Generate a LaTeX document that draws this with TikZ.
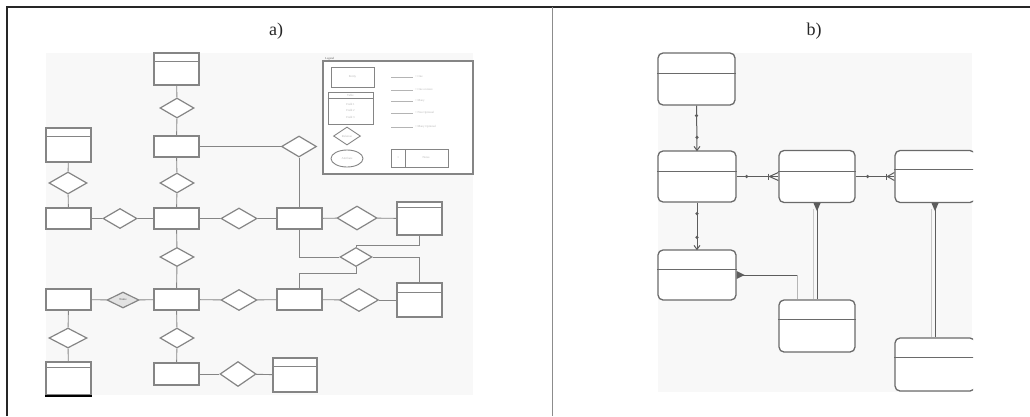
\documentclass[tikz,border=0pt]{standalone}
\usepackage{fontspec}
\setmainfont{Liberation Serif}
\usetikzlibrary{shapes.geometric,arrows.meta,calc}
\definecolor{ln}{HTML}{858585}
\definecolor{bg}{HTML}{F8F8F8}
\definecolor{lg}{HTML}{B4B4B4}
\begin{document}
\begin{tikzpicture}[x=1pt,y=-1pt,
  ent/.style={draw=ln, line width=1.4pt, fill=white, minimum width=45pt, minimum height=21pt, inner sep=0pt},
  tbl/.style={ent, minimum height=33pt},
  rel/.style={diamond, draw=ln, line width=1.2pt, fill=white, inner sep=0pt, minimum width=34pt, minimum height=20pt},
  conn/.style={draw=ln, line width=0.9pt},
  hdr/.style={draw=ln, line width=0.8pt},
  rt/.style={draw=ln!80!black, line width=1.3pt, rounded corners=5pt, fill=white, inner sep=0pt, minimum width=77pt, minimum height=52pt},
  bconn/.style={draw=ln!70!black, line width=1pt},
  tiny/.style={font=\fontsize{3}{3.5}\selectfont, text=lg, inner sep=0pt},
  lbl/.style={font=\fontsize{18}{20}\selectfont, text=black!85, inner sep=0pt}]
\useasboundingbox (0,0) rectangle (1030,416);
% frame
\draw[line width=1.3pt, black!85] (7,416) -- (7,7) -- (1030,7);
\draw[line width=0.8pt, black!45] (552,7) -- (552,416);
\node[lbl] (la) at (276,31) {a)};
\node[lbl] (lb) at (814,31) {b)};
% ---------------- panel a
\fill[bg] (46,53) rectangle (473,395);
% legend
\node[draw=ln, line width=1.4pt, fill=white, minimum width=150pt, minimum height=113pt, inner sep=0pt] (leg) at (398,117.5) {};
\node[tiny, anchor=south west, text=ln!70!black] (legt) at (325,60) {Legend};
\node[ent, line width=1pt, minimum width=43pt, minimum height=20pt] (lent) at (352.5,77) {};
\node[tiny] at (lent) {Entity};
\node[ent, line width=1pt, minimum width=45pt, minimum height=32pt] (ltbl) at (350.5,108) {};
\draw[hdr, line width=0.5pt] ($(ltbl.north west)+(0,7)$) -- ($(ltbl.north east)+(0,7)$);
\node[tiny] at (350.5,95.5) {Table};
\node[tiny] at (350.5,104) {Field 1};
\node[tiny] at (350.5,110.5) {Field 2};
\node[tiny] at (350.5,117) {Field 3};
\node[rel, line width=0.9pt, minimum width=27pt, minimum height=18pt] (lrel) at (347,136) {};
\node[tiny] at (lrel) {Relation};
\node[ellipse, draw=ln, line width=0.9pt, fill=white, minimum width=32pt, minimum height=17pt, inner sep=0pt] (latt) at (347,158.5) {};
\node[tiny] at (latt) {Attribute};
\node[draw=ln, line width=0.8pt, fill=white, minimum width=57pt, minimum height=18pt, inner sep=0pt] (lkey) at (419.5,158) {};
\draw[hdr, line width=0.5pt] (405,149) -- (405,167);
\node[tiny] at (398,158) {1};
\node[tiny] at (426,158) {Notes};
\foreach \yy/\tt in {77/= One, 90/= One or more, 101/= Many, 113/= Non Optional, 127/= Many Optional}{
  \draw[draw=lg, line width=0.6pt] (391,\yy) -- (413,\yy);
  \node[tiny, anchor=west] at (415,\yy) {\tt};
}
% entities and relations
\node[tbl, minimum height=32pt] (tA) at (176.5,69) {};
\draw[hdr] ($(tA.north west)+(0,9)$) -- ($(tA.north east)+(0,9)$);
\node[rel] (dA) at (177,108) {};
\node[ent] (eA) at (176.5,146.5) {};
\node[rel, minimum width=35pt, minimum height=21pt] (dAR) at (299,146.5) {};
\node[tbl, minimum height=34pt] (tL) at (68.5,145) {};
\draw[hdr] ($(tL.north west)+(0,9)$) -- ($(tL.north east)+(0,9)$);
\node[rel, minimum width=38pt, minimum height=22pt] (dL) at (68,183) {};
\node[rel] (dA2) at (177,183) {};
% row B
\node[ent] (eB1) at (68.5,218.5) {};
\node[rel] (dB1) at (120,218.5) {};
\node[ent] (eB2) at (176.5,218.5) {};
\node[rel, minimum width=36pt, minimum height=21pt] (dB2) at (239,218.5) {};
\node[ent] (eB3) at (299.5,218.5) {};
\node[rel, minimum width=40pt, minimum height=24pt] (dB3) at (357,218) {};
\node[tbl] (tB4) at (419.5,218.5) {};
\draw[hdr] ($(tB4.north west)+(0,6)$) -- ($(tB4.north east)+(0,6)$);
\node[rel, minimum height=19pt] (dB2C) at (177,257) {};
\node[rel, minimum width=32pt, minimum height=19pt] (dM) at (356,257) {};
% row C
\node[ent] (eC1) at (68.5,299.5) {};
\node[rel, minimum width=32pt, minimum height=16pt, fill=gray!22] (dC1) at (123,300) {};
\node[tiny, text=ln!60!black] at (dC1) {Name};
\node[ent] (eC2) at (176.5,299.5) {};
\node[rel, minimum width=36pt, minimum height=21pt] (dC2) at (239,300) {};
\node[ent] (eC3) at (299.5,299.5) {};
\node[rel, minimum width=39pt, minimum height=23pt] (dC3) at (359,300) {};
\node[tbl, minimum height=34pt] (tC4) at (419.5,300) {};
\draw[hdr] ($(tC4.north west)+(0,10)$) -- ($(tC4.north east)+(0,10)$);
% bottom
\node[rel, minimum width=38pt] (dD1) at (68,338) {};
\node[tbl] (tD1) at (68.5,378.5) {};
\draw[hdr] ($(tD1.north west)+(0,6)$) -- ($(tD1.north east)+(0,6)$);
\draw[line width=1.8pt, black] (tD1.south west) -- (tD1.south east);
\node[rel] (dD2) at (177,338) {};
\node[ent, minimum height=22pt] (eD2) at (176.5,374) {};
\node[rel, minimum width=36pt, minimum height=25pt] (dD3) at (238,374) {};
\node[tbl, minimum width=44pt, minimum height=34pt] (tD3) at (295,375) {};
\draw[hdr] ($(tD3.north west)+(0,9)$) -- ($(tD3.north east)+(0,9)$);
% connectors panel a
\draw[conn] (tA) -- (dA);
\draw[conn] (dA) -- (eA);
\draw[conn] (eA) -- (dAR);
\draw[conn] (dAR.south) -- (dAR.south |- eB3.north);
\draw[conn] (tL) -- (dL);
\draw[conn] (dL) -- (eB1);
\draw[conn] (eA) -- (dA2);
\draw[conn] (dA2) -- (eB2);
\draw[conn] (eB1) -- (dB1);
\draw[conn] (dB1) -- (eB2);
\draw[conn] (eB2) -- (dB2);
\draw[conn] (dB2) -- (eB3);
\draw[conn] (eB3) -- (dB3);
\draw[conn] (dB3) -- (tB4);
\draw[conn] (eB2) -- (dB2C);
\draw[conn] (dB2C) -- (eC2);
\draw[conn] (eB3.south) |- (dM.west);
\coordinate (mtop) at ($(dM.north)+(0,-1)$);
\draw[conn] (dM.north) -- (mtop) -| (tB4.south);
\draw[conn] (dM.east) -| (tC4.north);
\coordinate (mbot) at ($(dM.south)+(0,6)$);
\draw[conn] (dM.south) -- (mbot) -| (eC3.north);
\draw[conn] (eC1) -- (dC1);
\draw[conn] (dC1) -- (eC2);
\draw[conn] (eC2) -- (dC2);
\draw[conn] (dC2) -- (eC3);
\draw[conn] (eC3) -- (dC3);
\draw[conn] (dC3) -- (tC4);
\draw[conn] (eC1) -- (dD1);
\draw[conn] (dD1) -- (tD1);
\draw[conn] (eC2) -- (dD2);
\draw[conn] (dD2) -- (eD2);
\draw[conn] (eD2) -- (dD3);
\draw[conn] (dD3) -- (tD3);
% ---------------- panel b
\fill[bg] (658,53) rectangle (972,392);
\begin{scope}
\clip (650,45) rectangle (973,400);
\node[rt] (T1) at (696.5,79) {};
\node[rt, minimum width=78pt, minimum height=51pt] (T2) at (697,176.5) {};
\node[rt, minimum width=76pt] (T3) at (817,176.5) {};
\node[rt, minimum width=80pt] (T4) at (935,176.5) {};
\node[rt, minimum width=78pt, minimum height=50pt] (T5) at (697,275) {};
\node[rt, minimum width=76pt] (T6) at (817,326) {};
\node[rt, minimum width=80pt, minimum height=53pt] (T7) at (935,364.5) {};
\foreach \n/\d in {T1/21,T2/21,T3/22,T4/20,T5/20,T6/20,T7/20}{
  \draw[draw=ln!80!black, line width=1.1pt] ($(\n.north west)+(0,\d)$) -- ($(\n.north east)+(0,\d)$);
}
\end{scope}
% connectors panel b
\draw[bconn] (T1) -- (T2);
\fill[ln!70!black] ($(T1.south)+(0,10)$) circle (1.8pt);
\fill[ln!70!black] ($(T2.north)+(0,-13)$) circle (1.8pt);
\draw[bconn] ($(T2.north)+(-3,-4)$) -- (T2.north) -- ($(T2.north)+(3,-4)$);
\draw[bconn] (T2) -- (T5);
\fill[ln!70!black] ($(T2.south)+(0,11)$) circle (1.8pt);
\fill[ln!70!black] ($(T5.north)+(0,-12)$) circle (1.8pt);
\draw[bconn] ($(T5.north)+(-3,-4)$) -- (T5.north) -- ($(T5.north)+(3,-4)$);
\draw[bconn] (T2.east) -- (T3.west);
\fill[ln!70!black] ($(T2.east)+(10,0)$) circle (1.8pt);
\draw[bconn] ($(T3.west)+(-9,0)$) -- ($(T3.west)+(0,-4)$);
\draw[bconn] ($(T3.west)+(-9,0)$) -- ($(T3.west)+(0,4)$);
\draw[bconn] ($(T3.west)+(-10,-3)$) -- ($(T3.west)+(-10,3)$);
\draw[bconn] (T3.east) -- (T4.west);
\fill[ln!70!black] ($(T3.east)+(12,0)$) circle (1.8pt);
\draw[bconn] ($(T4.west)+(-7,0)$) -- ($(T4.west)+(0,-4)$);
\draw[bconn] ($(T4.west)+(-7,0)$) -- ($(T4.west)+(0,4)$);
\draw[bconn] ($(T4.west)+(-8,-3)$) -- ($(T4.west)+(-8,3)$);
\coordinate (bc) at (797,275);
\draw[bconn] (T5.east) -- (bc);
\fill[ln!70!black] ($(T5.east)+(0,-4)$) -- ($(T5.east)+(8,0)$) -- ($(T5.east)+(0,4)$) -- cycle;
\draw[draw=ln!60, line width=0.6pt] (bc) -- (bc |- T6.north);
\draw[bconn] (T3.south) -- (T3.south |- T6.north);
\fill[ln!70!black] ($(T3.south)+(-3.5,0)$) -- ($(T3.south)+(0,8)$) -- ($(T3.south)+(3.5,0)$) -- cycle;
\draw[draw=ln!45, line width=0.5pt] ($(T3.south)+(-4,6)$) -- ($(T6.north)+(-4,0)$);
\draw[bconn] (T4.south) -- (T7.north);
\fill[ln!70!black] ($(T4.south)+(-3.5,0)$) -- ($(T4.south)+(0,8)$) -- ($(T4.south)+(3.5,0)$) -- cycle;
\draw[draw=ln!45, line width=0.5pt] ($(T4.south)+(-4,6)$) -- ($(T7.north)+(-4,0)$);
\end{tikzpicture}
\end{document}
